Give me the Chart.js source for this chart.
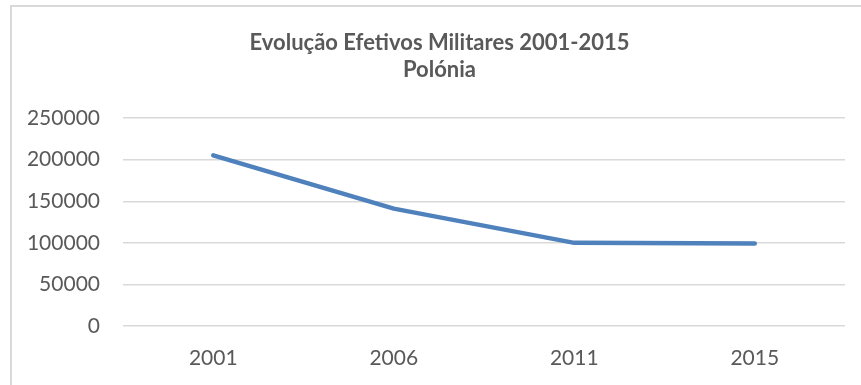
<!DOCTYPE html>
<html>
<head>
<meta charset="utf-8">
<script src="https://cdn.jsdelivr.net/npm/chart.js@4"></script>
<style>
  body { margin: 0; background: #fff; }
  #frame {
    position: absolute; left: 10px; top: 5px;
    width: 849px; height: 380px;
    border-left: 2px solid #d9d9d9; border-top: 2px solid #d9d9d9;
  }
</style>
</head>
<body>
<div id="frame"><canvas id="myChart" width="849" height="378"></canvas></div>
<script>
// efetivos militares - Polónia
var anos = ["2001", "2006", "2011", "2015"];
var efetivos = [205200, 141200, 100000, 99300];
var titulo = ["Evolução Efetivos Militares 2001-2015", "Polónia"];

var cinza = "#595959";

// empurra o título um pouco para a direita
var deslocaTitulo = {
  id: "deslocaTitulo",
  afterLayout: function (chart) {
    if (chart.titleBlock) {
      chart.titleBlock.left += 11;
      chart.titleBlock.right += 11;
    }
  }
};

new Chart("myChart", {
  type: "line",
  data: {
    labels: anos,
    datasets: [{
      data: efetivos,
      borderColor: "#4f81bd",
      borderWidth: 4.5,
      pointRadius: 0,
      tension: 0,
      borderCapStyle: "round",
      borderJoinStyle: "round"
    }]
  },
  options: {
    responsive: false,
    animation: false,
    layout: { padding: { left: 0, right: 16, top: 0, bottom: 0 } },
    plugins: {
      legend: { display: false },
      tooltip: { enabled: false },
      title: {
        display: true,
        text: titulo,
        color: cinza,
        font: { family: "Lato", size: 22, weight: "bold", lineHeight: 1.23 },
        padding: { top: 22, bottom: 35 }
      }
    },
    scales: {
      x: {
        offset: true,
        afterFit: function (axis) { axis.height = 59; },
        grid: { display: false, drawTicks: false },
        border: { display: false },
        ticks: { color: cinza, font: { family: "Lato", size: 21 }, padding: 20, maxRotation: 0 }
      },
      y: {
        min: 0,
        max: 250000,
        afterFit: function (axis) { axis.width = 111; },
        grid: { color: "#d9d9d9", lineWidth: 1.5, drawTicks: false },
        border: { display: false },
        ticks: {
          stepSize: 50000,
          color: cinza,
          font: { family: "Lato", size: 21 },
          padding: 23,
          callback: function (v) { return String(v); }
        }
      }
    }
  },
  plugins: [deslocaTitulo]
});
</script>
</body>
</html>
